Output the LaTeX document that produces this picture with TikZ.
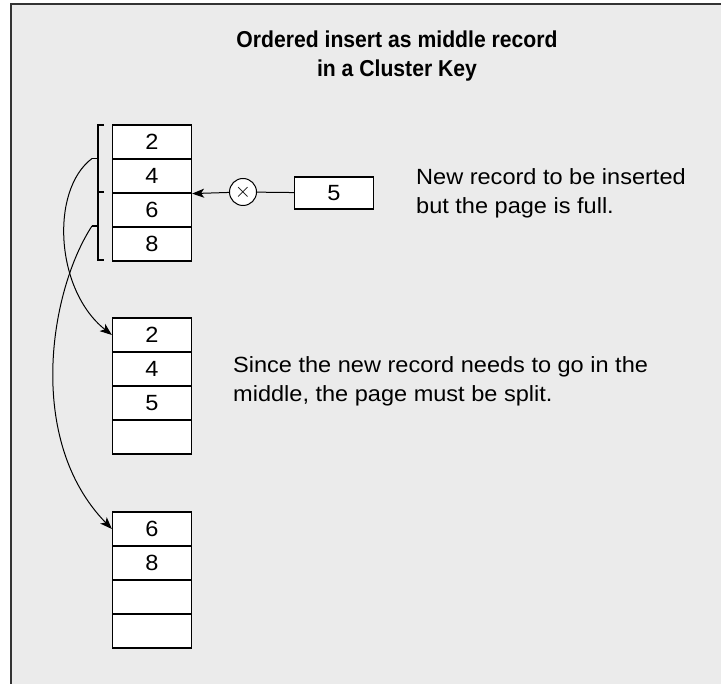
\documentclass[tikz,border=0pt]{standalone}
\usepackage{fontspec}
\setmainfont[FakeStretch=1.07]{Liberation Sans}
\newfontfamily\titlefont[FakeStretch=0.92]{Liberation Sans}
\usetikzlibrary{arrows.meta}
\begin{document}
\begin{tikzpicture}[x=1pt,y=-1pt,every node/.style={font=\fontsize{22}{29}\selectfont}]
  \tikzset{
    cell/.style={draw,fill=white,line width=1.2pt,minimum width=79pt,minimum height=34pt,inner sep=0pt},
    link/.style={line width=1pt,-{Stealth[length=12pt,width=9pt,inset=3pt]}},
    brk/.style={line width=1.2pt},
    note/.style={anchor=north west,align=left,inner sep=0pt}
  }
  \useasboundingbox (0,0) rectangle (721,684);
  \fill[black!8] (11,4) rectangle (721,684);
  \draw[black!80,line width=2pt] (11,684) -- (11,4) -- (721,4);
  \node[font=\titlefont\bfseries\fontsize{23}{29}\selectfont,align=center,anchor=north,inner sep=0pt]
    (title) at (397,31) {Ordered insert as middle record\\in a Cluster Key};
  % full page
  \foreach \v [count=\i] in {2,4,6,8}
    \node[cell] (a\i) at (152,108+34*\i) {\v};
  % pages after the split
  \foreach \v [count=\i] in {2,4,5,{}}
    \node[cell] (b\i) at (152,301+34*\i) {\v};
  \foreach \v [count=\i] in {6,8,{},{}}
    \node[cell] (c\i) at (152,495+34*\i) {\v};
  \foreach \t/\b/\n in {125/192/1,192/260/2} {
    \draw[brk] (104,\t) -- (98,\t) -- (98,\b) -- (104,\b);
    \draw[brk] (98,{(\t+\b)/2}) -- (92,{(\t+\b)/2}) coordinate (t\n);
  }
  \draw[link] (t1) .. controls (50,190) and (55,290) .. (b1.west);
  \draw[link] (t2) .. controls (50,290) and (25,440) .. (c1.west);
  % the new record
  \node[cell,minimum height=32pt] (newrec) at (334,193) {5};
  \node[circle,draw,fill=white,line width=1pt,minimum size=27pt,inner sep=0pt] (cross) at (243,192) {\(\times\)};
  \draw[line width=1pt] (newrec) -- (cross);
  \draw[link] (cross) -- (a2.south east);
  \node[note] (note1) at (416,168) {New record to be inserted\\but the page is full.};
  \node[note] (note2) at (233,356) {Since the new record needs to go in the\\middle, the page must be split.};
\end{tikzpicture}
\end{document}
